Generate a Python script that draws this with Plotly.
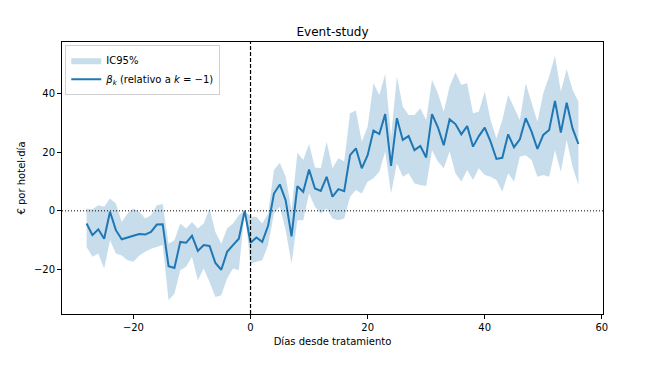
import plotly.graph_objects as go

# Event time (days relative to treatment)
k = list(range(-28, 57))

beta = [-4.3, -8.3, -6.3, -9.5, -0.3, -6.6, -9.7, -9.2, -8.5, -7.9,
        -8.1, -7.2, -4.7, -4.6, -18.9, -19.5, -10.6, -10.9, -8.5, -13.7,
        -11.7, -12.0, -17.8, -20.1, -14.0, -11.7, -9.5, 0.0, -10.9, -9.1,
        -10.6, -5.1, 5.9, 9.0, 3.6, -8.7, 8.4, 6.5, 14.1, 7.6,
        6.8, 11.6, 4.8, 7.4, 6.7, 19.0, 21.3, 14.5, 19.0, 27.4,
        26.2, 33.0, 15.3, 31.6, 24.2, 25.5, 20.7, 22.1, 18.2, 33.0,
        28.5, 22.4, 31.2, 29.6, 26.1, 28.9, 21.9, 25.5, 28.4, 23.6,
        17.7, 18.1, 26.1, 21.7, 24.4, 31.6, 27.0, 21.1, 25.9, 27.6,
        37.5, 26.7, 36.9, 28.1, 22.8]

upper = [0.8, 0.5, 1.9, 1.4, 4.2, 2.5, -3.8, -0.9, 0.8, -0.3,
         -2.6, -1.5, 1.9, 2.3, -11.2, -10.0, -4.3, -6.0, -3.8, -6.0,
         -4.3, 0.8, -7.2, -11.2, -6.0, -4.3, -1.5, 0.0, -2.0, -2.0,
         -4.3, -0.9, 13.9, 16.4, 11.6, 0.2, 19.8, 17.3, 22.8, 14.8,
         14.5, 23.6, 14.5, 17.9, 16.8, 33.3, 34.2, 23.6, 28.7, 43.5,
         39.5, 46.7, 25.3, 45.8, 35.6, 32.7, 32.7, 35.0, 31.0, 44.7,
         40.1, 33.8, 42.4, 47.2, 43.0, 43.5, 33.3, 33.8, 40.7, 31.0,
         24.7, 31.0, 39.5, 35.0, 31.0, 43.5, 37.3, 30.4, 40.1, 45.8,
         52.9, 40.7, 48.3, 41.3, 37.3]

lower = [-12.3, -15.7, -14.6, -19.7, -10.0, -14.6, -15.2, -16.9, -17.4, -15.2,
         -14.0, -12.9, -12.3, -11.7, -30.5, -28.3, -20.3, -19.1, -15.7, -23.7,
         -19.7, -24.3, -29.4, -28.8, -23.1, -19.7, -20.3, 0.0, -18.0, -17.4,
         -16.9, -11.7, -0.9, 1.4, -6.6, -18.0, -3.2, -3.2, 5.9, 1.4,
         -0.9, 0.8, -2.6, -3.2, -2.6, 4.8, 7.1, 5.9, 9.9, 11.1,
         13.3, 20.2, 5.9, 16.2, 11.6, 12.8, 9.3, 8.8, 8.5, 20.7,
         16.8, 14.5, 20.2, 12.8, 9.9, 13.9, 10.5, 14.5, 12.2, 11.6,
         10.5, 6.5, 12.8, 9.9, 18.5, 19.0, 17.3, 11.6, 12.2, 11.6,
         20.7, 13.3, 24.2, 15.0, 8.8]

x_ticks = [-20, 0, 20, 40, 60]
y_ticks = [-20, 0, 20, 40]
treat_day = 0
ref_level = 0

FONT = "DejaVu Sans"
BLUE = "#1f77b4"

fig = go.Figure()

fig.add_trace(go.Scatter(
    x=k + k[::-1],
    y=upper + lower[::-1],
    fill="toself",
    fillcolor="rgba(31,119,180,0.25)",
    line=dict(width=0, color="rgba(0,0,0,0)"),
    mode="lines",
    name="IC95%",
    hoverinfo="skip",
))

fig.add_trace(go.Scatter(
    x=k, y=beta, mode="lines",
    line=dict(color=BLUE, width=2),
    name="<i>β</i><sub><i>k</i></sub> (relativo a <i>k</i> = −1)",
))

fig.add_shape(type="line", xref="x", yref="paper", x0=treat_day, x1=treat_day,
              y0=0, y1=1, line=dict(color="black", width=1.2, dash="4px,2px"))
fig.add_shape(type="line", xref="paper", yref="y", x0=0, x1=1,
              y0=ref_level, y1=ref_level, line=dict(color="black", width=1, dash="1px,2px"))

# page body adds an 8px margin, so the figure is sized to fit the 659x375 window
fig.update_layout(
    width=643, height=359,
    margin=dict(l=54, r=48, t=34, b=53, autoexpand=False),
    paper_bgcolor="white", plot_bgcolor="white",
    font=dict(family=FONT, size=10, color="black"),
    title=dict(text="Event-study", x=0.5, xref="paper", xanchor="center",
               y=1, yref="paper", yanchor="bottom", pad=dict(b=6), automargin=False,
               font=dict(family=FONT, size=12, color="black")),
    showlegend=True,
    legend=dict(x=0.006, y=0.99, xanchor="left", yanchor="top",
                bgcolor="rgba(255,255,255,0.8)", bordercolor="#d0d0d0", borderwidth=1,
                font=dict(family=FONT, size=10, color="black"),
                itemwidth=30, tracegroupgap=0),
)

fig.update_xaxes(range=[-32.2, 60.2], tickvals=x_ticks, automargin=False,
                 ticktext=[str(v).replace("-", "−") for v in x_ticks],
                 showgrid=False, zeroline=False, showline=True, mirror=True,
                 linecolor="black", linewidth=1, ticks="outside", ticklen=4,
                 tickcolor="black",
                 title=dict(text="Días desde tratamiento", standoff=5,
                            font=dict(family=FONT, size=10, color="black")))
fig.update_yaxes(range=[-35.2, 57.6], tickvals=y_ticks, automargin=False,
                 ticktext=[str(v).replace("-", "−") for v in y_ticks],
                 showgrid=False, zeroline=False, showline=True, mirror=True,
                 linecolor="black", linewidth=1, ticks="outside", ticklen=4,
                 tickcolor="black",
                 title=dict(text="€ por hotel·día", standoff=6,
                            font=dict(family=FONT, size=10, color="black")))

fig.write_html("out.html")
